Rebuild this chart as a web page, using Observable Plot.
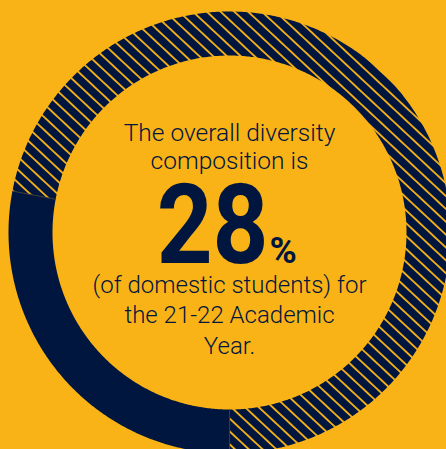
<!DOCTYPE html>
<html>
<head>
<meta charset="utf-8">
<script src="https://cdn.jsdelivr.net/npm/d3@7"></script>
<script src="https://cdn.jsdelivr.net/npm/@observablehq/plot@0.6"></script>
<style>
  html, body { margin: 0; padding: 0; background: #F9B317; }
  #chart svg { display: block; }
</style>
</head>
<body>
<div id="chart"></div>
<script>
// ---- data ----
const categories = ["Diverse", "Other"];
const shares = [28, 72];            // percent of domestic students
const sliceStyles = ["solid", "hatch"];
const headLines = ["The overall diversity", "composition is"];
const bigValue = "28";
const bigSuffix = "%";
const footLines = ["(of domestic students) for", "the 21-22 Academic", "Year."];

// ---- layout ----
const W = 446, H = 449;
const CX = 229, CY = 232;
const R_OUT = 221, R_IN = 177;
const NAVY = "#01163F", GOLD = "#F9B317";

// build ring-slice polygons from the shares (start at bottom, clockwise)
const total = d3.sum(shares);
const polys = [];
const bounds = [];
let acc = 0;
shares.forEach((v, i) => {
  const a0 = Math.PI + (acc / total) * 2 * Math.PI;
  acc += v;
  const a1 = Math.PI + (acc / total) * 2 * Math.PI;
  bounds.push({a: a0, cat: categories[i]});
  const n = Math.max(2, Math.ceil((a1 - a0) / (Math.PI / 360)));
  const pts = [];
  for (let k = 0; k <= n; k++) {
    const a = a0 + (a1 - a0) * k / n;
    pts.push({cat: categories[i], style: sliceStyles[i], x: R_OUT * Math.sin(a), y: -R_OUT * Math.cos(a)});
  }
  for (let k = n; k >= 0; k--) {
    const a = a0 + (a1 - a0) * k / n;
    pts.push({cat: categories[i], style: sliceStyles[i], x: R_IN * Math.sin(a), y: -R_IN * Math.cos(a)});
  }
  polys.push(...pts);
});
const boundaryLinks = bounds.map(b => ({
  x1: R_IN * Math.sin(b.a), y1: -R_IN * Math.cos(b.a),
  x2: R_OUT * Math.sin(b.a), y2: -R_OUT * Math.cos(b.a)
}));

const defsMark = () => {
  const defs = d3.create("svg:defs");
  const p = defs.append("pattern")
    .attr("id", "hatch")
    .attr("patternUnits", "userSpaceOnUse")
    .attr("width", 9.4).attr("height", 9.4)
    .attr("patternTransform", "rotate(-47)");
  p.append("rect").attr("width", 9.4).attr("height", 9.4).attr("fill", NAVY);
  p.append("rect").attr("x", 0).attr("y", 0).attr("width", 1.8).attr("height", 9.4).attr("fill", GOLD);
  return defs.node();
};

const bodyFont = "Roboto, 'Liberation Sans', sans-serif";
const bigFont = "Roboto, 'Liberation Sans', sans-serif";
const BIG_X = 39;   // right edge of the big number, relative to centre

const chart = Plot.plot({
  width: W,
  height: H,
  margin: 0,
  style: {background: GOLD, overflow: "hidden"},
  x: {type: "linear", domain: [-CX, W - CX], range: [0, W], axis: null},
  y: {type: "linear", domain: [-CY, H - CY], range: [0, H], axis: null},
  marks: [
    defsMark,
    Plot.line(polys.filter(d => d.style === "solid"), {x: "x", y: "y", z: "cat", fill: NAVY, stroke: "none"}),
    Plot.line(polys.filter(d => d.style === "hatch"), {x: "x", y: "y", z: "cat", fill: "url(#hatch)", stroke: "none"}),
    Plot.link(boundaryLinks, {x1: "x1", y1: "y1", x2: "x2", y2: "y2", stroke: "#3a3a3a", strokeWidth: 1}),
    Plot.text(headLines, {
      x: () => 0, y: (d, i) => -92 + i * 28.5, text: d => d,
      lineAnchor: "bottom", textAnchor: "middle", fontSize: 24.5, fontWeight: 300,
      fontFamily: bodyFont, fill: NAVY
    }),
    Plot.text([bigValue], {
      x: () => BIG_X, y: () => 30, text: d => d,
      lineAnchor: "bottom", textAnchor: "end", fontSize: 112, fontWeight: 700,
      fontFamily: bigFont, fill: NAVY
    }),
    Plot.text([bigSuffix], {
      x: () => BIG_X + 1, y: () => 30, text: d => d,
      lineAnchor: "bottom", textAnchor: "start", fontSize: 37, fontWeight: 700,
      fontFamily: bigFont, fill: NAVY
    }),
    Plot.text(footLines, {
      x: () => 0, y: (d, i) => 60 + i * 30.5, text: d => d,
      lineAnchor: "bottom", textAnchor: "middle", fontSize: 24, fontWeight: 300,
      fontFamily: bodyFont, fill: NAVY
    })
  ]
});
// condense the big number horizontally (anchored at its right edge)
chart.querySelectorAll("text").forEach(t => {
  if (t.textContent === bigValue) {
    const ax = CX + BIG_X;
    const wrap = document.createElementNS("http://www.w3.org/2000/svg", "g");
    wrap.setAttribute("transform", `translate(${ax},0) scale(0.87,1) translate(${-ax},0)`);
    t.parentNode.insertBefore(wrap, t);
    wrap.appendChild(t);
  }
});
document.getElementById("chart").appendChild(chart);
</script>
</body>
</html>
